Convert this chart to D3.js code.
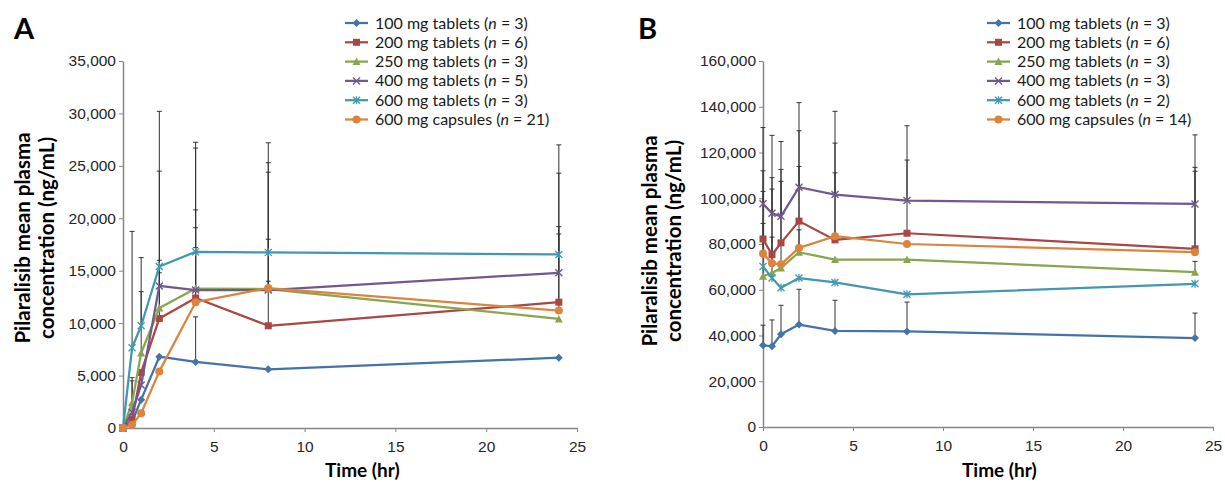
<!DOCTYPE html>
<html>
<head>
<meta charset="utf-8">
<script src="https://cdn.jsdelivr.net/npm/d3@7"></script>
<style>
  body { margin: 0; background: #fff; }
  svg { display: block; font-family: Lato, "Open Sans", sans-serif; }
</style>
</head>
<body>
<script>
// sampling times (hr), shared by both panels
const times = [0, 0.5, 1, 2, 4, 8, 24];

const doses = ['100 mg tablets', '200 mg tablets', '250 mg tablets', '400 mg tablets', '600 mg tablets', '600 mg capsules'];
const nA = [3, 6, 3, 5, 3, 21];
const nB = [3, 6, 3, 3, 2, 14];

// panel A means (ng/mL), one row per dose
const meanA = [
  [0, 600, 2700, 6800, 6300, 5600, 6700],
  [0, 800, 5300, 10450, 12400, 9750, 12000],
  [0, 2400, 7150, 11450, 13300, 13250, 10400],
  [0, 1500, 4100, 13550, 13150, 13150, 14800],
  [0, 7650, 9750, 15400, 16800, 16750, 16550],
  [0, 300, 1400, 5400, 12000, 13350, 11200]
];
// panel A mean + SD (top of error bar), null = not drawn
const upperA = [
  [null, null, null, null, 10600, null, null],
  [null, null, null, 14800, 19100, 14000, 19200],
  [null, 4800, 13000, 16000, 20800, 18000, null],
  [null, 4500, null, 24500, 26700, 25300, 24300],
  [null, 18750, 16250, 30200, 27250, 27200, 27000],
  [null, null, null, null, 17200, 24400, 18500]
];

// panel B means (ng/mL)
const meanB = [
  [35700, 35300, 40500, 44800, 42000, 41800, 38900],
  [82200, 75300, 80500, 90000, 81800, 84700, 77900],
  [65900, 67300, 69500, 76400, 73200, 73200, 67700],
  [97600, 93400, 92100, 104800, 101600, 99000, 97500],
  [70200, 65100, 60900, 65100, 63200, 58000, 62600],
  [75800, 71600, 71100, 78300, 83400, 80000, 76400]
];
const upperB = [
  [44500, 46800, 53200, 60200, 55400, 54600, 49800],
  [112000, 109000, 112600, 129500, 111100, 116700, 113500],
  [89000, 83000, null, 86200, null, null, 72400],
  [130900, 127500, 124800, 141800, 138000, 131700, 127700],
  [null, null, null, null, null, null, null],
  [103000, 104000, 107400, 113900, 124100, null, 111800]
];

const xTicks = [0, 5, 10, 15, 20, 25];
const yTicksA = d3.range(0, 35001, 5000);
const yTicksB = d3.range(0, 160001, 20000);

const colors = ['#4572A7', '#AA4643', '#89A54E', '#71588F', '#4198AF', '#DB843D'];
const markers = ['diamond', 'square', 'triangle', 'x', 'star', 'circle'];

const W = 1225, H = 482;
const svg = d3.select('body').append('svg').attr('width', W).attr('height', H);

function drawMarker (g, type, color) {
  switch (type) {
    case 'diamond':
      g.append('path').attr('d', 'M0,-4L4,0L0,4L-4,0Z').attr('fill', color); break;
    case 'square':
      g.append('rect').attr('x', -3.5).attr('y', -3.5).attr('width', 7).attr('height', 7).attr('fill', color); break;
    case 'triangle':
      g.append('path').attr('d', 'M0,-4L4,3.5L-4,3.5Z').attr('fill', color); break;
    case 'circle':
      g.append('circle').attr('r', 4).attr('fill', color); break;
    case 'x':
      g.append('path').attr('d', 'M-3.5,-3.5L3.5,3.5M-3.5,3.5L3.5,-3.5')
        .attr('stroke', color).attr('stroke-width', 1.4).attr('fill', 'none'); break;
    case 'star':
      g.append('path').attr('d', 'M-3.5,-3.5L3.5,3.5M-3.5,3.5L3.5,-3.5M0,-4L0,4')
        .attr('stroke', color).attr('stroke-width', 1.3).attr('fill', 'none'); break;
  }
}

function panel (opt) {
  const x = d3.scaleLinear().domain([0, 25]).range(opt.xRange);
  const y = d3.scaleLinear().domain([0, opt.yMax]).range(opt.yRange);
  const g = svg.append('g');

  // axes
  const yAxis = g.append('g')
    .attr('transform', `translate(${opt.xRange[0]},0)`)
    .call(d3.axisLeft(y).tickValues(opt.yTicks).tickFormat(d3.format(',')).tickSize(4).tickSizeOuter(0).tickPadding(3));
  const xAxis = g.append('g')
    .attr('transform', `translate(0,${opt.yRange[0]})`)
    .call(d3.axisBottom(x).tickValues(xTicks).tickSize(4).tickSizeOuter(0).tickPadding(9));
  [xAxis, yAxis].forEach(a => {
    a.select('.domain').attr('stroke', '#868686').attr('stroke-width', 1.5);
    a.selectAll('.tick line').attr('stroke', '#868686');
    a.selectAll('.tick text').attr('fill', '#262626').style('font-size', '15.5px');
  });

  // error bars (upward, with caps)
  opt.upper.forEach((row, si) => {
    row.forEach((u, ti) => {
      if (u == null) return;
      const cx = x(times[ti]);
      g.append('line').attr('x1', cx).attr('x2', cx)
        .attr('y1', y(opt.mean[si][ti])).attr('y2', y(u))
        .attr('stroke', '#333').attr('stroke-width', 1);
      g.append('line').attr('x1', cx - 2.5).attr('x2', cx + 2.5)
        .attr('y1', y(u)).attr('y2', y(u))
        .attr('stroke', '#333').attr('stroke-width', 1);
    });
  });

  // series lines and markers
  const line = d3.line().x((d, i) => x(times[i])).y(d => y(d));
  opt.mean.forEach((row, si) => {
    g.append('path').datum(row).attr('d', line)
      .attr('fill', 'none').attr('stroke', colors[si]).attr('stroke-width', 2.25)
      .attr('stroke-linejoin', 'round');
    row.forEach((v, ti) => {
      const m = g.append('g').attr('transform', `translate(${x(times[ti])},${y(v)})`);
      drawMarker(m, markers[si], colors[si]);
    });
  });

  // legend
  const leg = g.append('g').attr('transform', `translate(${opt.legend[0]},${opt.legend[1]})`);
  doses.forEach((name, i) => {
    const row = leg.append('g').attr('transform', `translate(0,${i * 19.3})`);
    row.append('line').attr('x1', 0).attr('x2', 23).attr('stroke', colors[i]).attr('stroke-width', 2.25);
    drawMarker(row.append('g').attr('transform', 'translate(11.5,0)'), markers[i], colors[i]);
    const t = row.append('text').attr('x', 30).attr('y', 5.5)
      .style('font-size', '16px').attr('fill', '#1a1a1a');
    t.append('tspan').text(`${name} (`);
    t.append('tspan').attr('font-style', 'italic').text('n');
    t.append('tspan').text(` = ${opt.n[i]})`);
  });

  // panel letter
  g.append('text').attr('x', opt.letter[0]).attr('y', opt.letter[1])
    .style('font-size', '29px').attr('font-weight', 'bold').text(opt.name);

  // axis titles
  const yt = g.append('text')
    .attr('transform', `translate(${opt.yTitle[0]},${opt.yTitle[1]}) rotate(-90)`)
    .attr('text-anchor', 'middle').attr('font-weight', 'bold').style('font-size', '20.5px');
  yt.append('tspan').attr('x', 0).attr('y', 0).text('Pilaralisib mean plasma');
  yt.append('tspan').attr('x', 0).attr('y', 24).text('concentration (ng/mL)');

  g.append('text').attr('x', opt.xTitle[0]).attr('y', opt.xTitle[1])
    .attr('font-weight', 'bold').style('font-size', '19px').text('Time (hr)');
}

panel({
  name: 'A', xRange: [123, 577], yRange: [428, 61], yMax: 35000, yTicks: yTicksA,
  mean: meanA, upper: upperA, n: nA,
  legend: [345, 23], letter: [14, 39], yTitle: [30, 238], xTitle: [325, 477]
});
panel({
  name: 'B', xRange: [763, 1213], yRange: [427, 61], yMax: 160000, yTicks: yTicksB,
  mean: meanB, upper: upperB, n: nB,
  legend: [987, 23], letter: [638, 39], yTitle: [657, 241], xTitle: [962, 477]
});
</script>
</body>
</html>
